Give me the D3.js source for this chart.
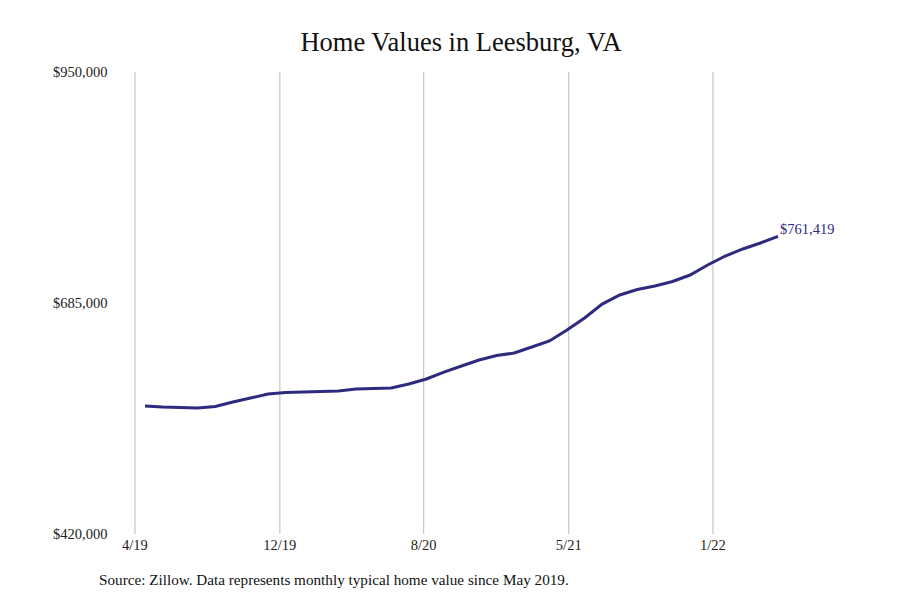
<!DOCTYPE html><html><head><meta charset="utf-8">
<script src="https://cdn.jsdelivr.net/npm/d3@7"></script>
<style>body{margin:0;background:#fff}text{font-family:"Liberation Serif","DejaVu Serif",serif}</style></head>
<body><svg id="c" width="900" height="600"></svg><script>
const values=[566800,565700,565100,564500,566300,571400,576000,580600,582300,582900,583500,584100,586300,586900,587500,592100,597800,605800,612700,619600,624800,627600,634500,641400,654000,667800,683800,694200,700500,704500,709700,717100,728600,738900,747000,753800,761419];
const xTickLabels=["4/19","12/19","8/20","5/21","1/22"];
const xTickPos=[-0.57,7.67,15.85,24.1,32.3];
const yTicks=[420000,685000,950000];
const svg=d3.select("#c");
const x=d3.scaleLinear().domain([0,values.length-1]).range([145,778]);
const y=d3.scaleLinear().domain([420000,950000]).range([534,72]);
svg.append("text").attr("x",461).attr("y",51).attr("text-anchor","middle").attr("font-size",26.5).attr("fill","#111").text("Home Values in Leesburg, VA");
xTickPos.forEach((p,i)=>{
 svg.append("line").attr("x1",x(p)).attr("x2",x(p)).attr("y1",72).attr("y2",534).attr("stroke","#bbb").attr("stroke-width",1);
 svg.append("text").attr("x",x(p)).attr("y",550).attr("text-anchor","middle").attr("font-size",14.5).attr("fill","#222").text(xTickLabels[i]);
});
yTicks.forEach(t=>{
 svg.append("text").attr("x",53).attr("y",y(t)+5).attr("font-size",14.5).attr("fill","#222").text(d3.format("$,")(t));
});
svg.append("path").datum(values).attr("fill","none").attr("stroke","#2e2a7e").attr("stroke-width",3)
 .attr("d",d3.line().x((d,i)=>x(i)).y(d=>y(d)));
svg.append("text").attr("x",x(values.length-1)+2).attr("y",y(values[values.length-1])-2).attr("font-size",14.5).attr("fill","#2e2a7e").text(d3.format("$,")(values[values.length-1]));
svg.append("text").attr("x",99).attr("y",585).attr("font-size",15.2).attr("fill","#111").text("Source: Zillow. Data represents monthly typical home value since May 2019.");
</script></body></html>
